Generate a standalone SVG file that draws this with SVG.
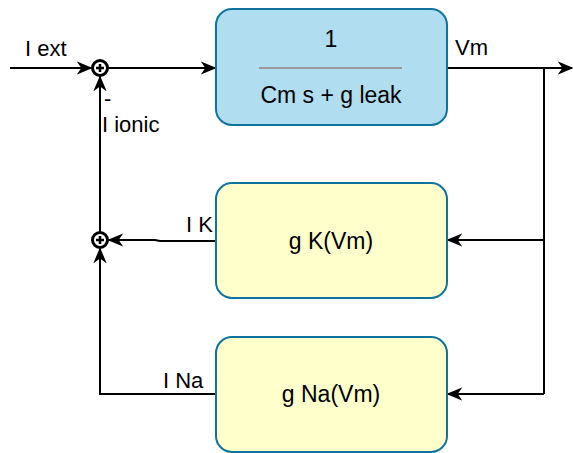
<svg xmlns="http://www.w3.org/2000/svg" width="573" height="453" viewBox="0 0 573 453">
<style>
text{font-family:"Liberation Sans",Arial,sans-serif;font-size:22px;fill:#000}
.c{text-anchor:middle;font-size:23px}
.box{stroke:#10739e;stroke-width:2}
.ln{fill:none;stroke:#000;stroke-width:2}
.sum{fill:#fff;stroke:#000;stroke-width:3}
</style>
<defs>
<marker id="a" viewBox="0 0 10 10" refX="9" refY="5" markerWidth="16" markerHeight="16" markerUnits="userSpaceOnUse" orient="auto">
<path d="M0,0.8 L10,5 L0,9.2 L3,5 Z" fill="#000"/>
</marker>
</defs>
<g id="connectors">
<path class="ln" d="M10,68 H91" marker-end="url(#a)"/>
<path class="ln" d="M108,68 H215" marker-end="url(#a)"/>
<path class="ln" d="M447,68 H572" marker-end="url(#a)"/>
<path class="ln" d="M544,68 V394"/>
<path class="ln" d="M544,240 H448" marker-end="url(#a)"/>
<path class="ln" d="M544,394 H448" marker-end="url(#a)"/>
<path class="ln" d="M216,241 H160 L155,240 H109" marker-end="url(#a)"/>
<path class="ln" d="M216,394 H100 V249" marker-end="url(#a)"/>
<path class="ln" d="M100,232 V77" marker-end="url(#a)"/>
</g>
<g id="sum1">
<circle class="sum" cx="100" cy="68" r="7.5"/>
<path d="M96,68 H104 M100,64 V72" stroke="#000" stroke-width="2.5"/>
</g>
<g id="sum2">
<circle class="sum" cx="100" cy="240" r="7.5"/>
<path d="M96,240 H104 M100,236 V244" stroke="#000" stroke-width="2.5"/>
</g>
<g id="tf">
<rect class="box" x="216" y="9" width="231" height="116" rx="16" fill="#b1ddf0"/>
<text class="c" x="331" y="47">1</text>
<line x1="259" y1="68" x2="402" y2="68" stroke="#999" stroke-width="2"/>
<text class="c" x="331" y="103">Cm s + g leak</text>
</g>
<g id="gk">
<rect class="box" x="216" y="183" width="231" height="115" rx="16" fill="#ffffcc"/>
<text class="c" x="331" y="249">g K(Vm)</text>
</g>
<g id="gna">
<rect class="box" x="216" y="337" width="231" height="115" rx="16" fill="#ffffcc"/>
<text class="c" x="331" y="402">g Na(Vm)</text>
</g>
<g id="labels">
<text x="25" y="56">I ext</text>
<text x="104" y="106">-</text>
<text x="102" y="132">I ionic</text>
<text x="455" y="55">Vm</text>
<text x="186" y="232">I K</text>
<text x="163" y="388">I Na</text>
</g>
</svg>
